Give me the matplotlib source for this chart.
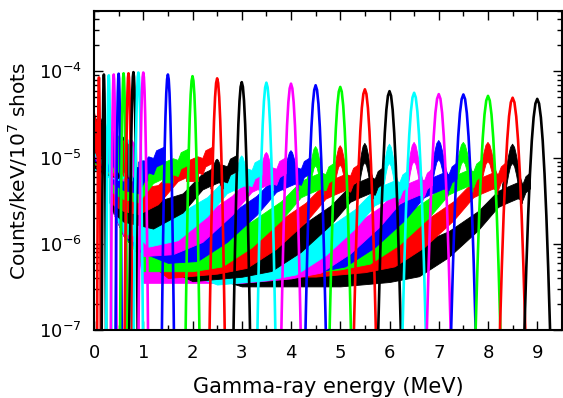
import numpy as np
import matplotlib
matplotlib.use('Agg')
import matplotlib.pyplot as plt

# full-energy peaks: energy (MeV), height, gaussian width (MeV)
peakEnergy = [0.1, 0.2, 0.3, 0.4, 0.5, 0.6, 0.7, 0.8, 0.9, 1.0,
              1.5, 2.0, 2.5, 3.0, 3.5, 4.0, 4.5, 5.0, 5.5, 6.0,
              6.5, 7.0, 7.5, 8.0, 8.5, 9.0]
peakHeight = [8.5e-5, 9.2e-5, 9.0e-5, 9.2e-5, 9.4e-5, 9.5e-5, 9.5e-5, 9.8e-5, 9.7e-5, 9.7e-5,
              9.2e-5, 8.8e-5, 8.3e-5, 7.5e-5, 7.4e-5, 7.2e-5, 6.9e-5, 6.6e-5, 6.2e-5, 5.9e-5,
              5.65e-5, 5.45e-5, 5.4e-5, 5.2e-5, 4.95e-5, 4.8e-5]
peakSigma = [0.010, 0.012, 0.014, 0.016, 0.017, 0.019, 0.021, 0.023, 0.025, 0.026,
             0.033, 0.038, 0.042, 0.046, 0.050, 0.054, 0.057, 0.060, 0.062, 0.064,
             0.066, 0.068, 0.070, 0.071, 0.073, 0.074]
colorCycle = ['#ff0000', '#000000', '#00ffff', '#ff00ff', '#0000ff', '#00ff00']

# peak profile (offset in sigma, relative height)
shapeDx = [-4.5, -4.0, -3.5, -3.0, -2.5, -2.0, -1.5, -1.0, -0.5, 0.0,
           0.5, 1.0, 1.5, 2.0, 2.5, 3.0, 3.5, 4.0, 4.5]
shapeRel = [4.0e-5, 3.4e-4, 2.2e-3, 1.1e-2, 4.4e-2, 0.135, 0.325, 0.607, 0.882, 1.0,
            0.882, 0.607, 0.325, 0.135, 4.4e-2, 1.1e-2, 2.2e-3, 3.4e-4, 4.0e-5]

# continuum of the peaks below 1.02 MeV (fraction of peak energy, level)
lowLevel = [2.8e-5, 2.6e-5, 2.3e-5, 2.1e-5, 1.9e-5, 1.8e-5, 1.7e-5, 1.6e-5, 1.5e-5, 1.5e-5]
lowFrac = [0.0, 0.3, 0.6, 0.75, 0.85]
lowShape = [1.2, 1.0, 0.9, 1.1, 0.9]

# continuum of the peaks from 1.5 MeV, relative to the peak energy
tmplD = [-9.5, -6.0, -4.0, -3.0, -2.4, -1.8, -1.2, -0.8, -0.65]
tmplHi = [8e-7, 8e-7, 8e-7, 9e-7, 1.0e-6, 1.4e-6, 2.4e-6, 4.1e-6, 4.5e-6]
tmplRatio = [0.4, 0.4, 0.4, 0.4, 0.42, 0.5, 0.6, 0.65, 0.65]
comptonD = [-0.4, -0.3, -0.24]
comptonRel = [1.15, 1.1, 1.35]
thrX = [0.32, 0.4, 0.6, 0.9]
thrMin = [6e-6, 4.5e-6, 2.5e-6, 1.5e-6]
thrGain = [1.6, 1.4, 1.2, 1.1]

contScale = [2.0, 1.9, 2.0, 1.6, 1.45, 1.5, 1.5, 1.3, 1.25, 1.15,
             1.05, 1.1, 1.3, 1.4, 1.3, 1.0]
contFloor = [7e-6, 5.5e-6, 4e-6, 3e-6, 2.2e-6, 1.8e-6, 1.5e-6, 1.2e-6, 1.0e-6, 9e-7,
             8e-7, 8e-7, 8e-7, 7e-7, 7e-7, 7e-7]
escapeTop = [9.3e-6, 8.6e-6, 9.0e-6, 9.7e-6, 1.06e-5, 1.16e-5, 1.22e-5, 1.36e-5, 1.39e-5, 1.48e-5,
             1.45e-5, 1.52e-5, 1.6e-5, 1.52e-5, 1.52e-5, 1.45e-5]


def drawContinuum(ax, i, color):
    E = peakEnergy[i]
    sig = peakSigma[i]

    if i < 10:
        x = E * np.array(lowFrac)
        hi = lowLevel[i] * np.array(lowShape)
        ax.fill_between(x, hi * 0.4, hi, color=color, lw=0.6)
        return

    j = i - 10
    d = np.array(tmplD)
    keep = E + d > 0.95
    hiT = np.maximum(contScale[j] * np.array(tmplHi), contFloor[j])[keep]
    loT = hiT * np.array(tmplRatio)[keep]
    hiThr = np.maximum(contFloor[j] * np.array(thrGain), thrMin)
    base = contScale[j] * 4.5e-6
    hiC = base * np.array(comptonRel + [1.5])
    xC = E + np.array(comptonD + [-2.0 * sig])
    x = np.concatenate([thrX, E + d[keep], xC])
    hi = np.concatenate([hiThr, hiT, hiC])
    lo = np.concatenate([hiThr * 0.5, loT, hiC * 0.65])
    ax.fill_between(x, lo, hi, color=color, lw=0.6)

    # single escape peak
    dx = np.array(shapeDx)
    sel = np.abs(dx) <= 2.5
    xe = E - 0.511 + 1.1 * sig * dx[sel]
    ye = base + (escapeTop[j] - base) * np.array(shapeRel)[sel]
    ax.fill_between(xe, ye * 0.6, ye, color=color, lw=0.6)


fig = plt.figure(figsize=(5.63, 3.98), dpi=100)
ax = fig.add_axes([0.167, 0.171, 0.831, 0.801])

n = len(peakEnergy)
# high-energy continua first so the lower ones stay visible on top
for i in reversed(range(n)):
    drawContinuum(ax, i, colorCycle[i % 6])
for i in range(n):
    ax.plot(peakEnergy[i] + peakSigma[i] * np.array(shapeDx),
            peakHeight[i] * np.array(shapeRel), color=colorCycle[i % 6], lw=1.9)

ax.set_yscale('log')
ax.set_xlim(0, 9.5)
ax.set_ylim(1e-7, 5e-4)
ax.set_xticks(np.arange(0, 10, 1))
ax.set_xticks(np.arange(0, 9.6, 0.5), minor=True)
ax.tick_params(which='both', direction='in', top=True, right=True, width=1,
               labelsize=13)
ax.tick_params(which='major', length=6.5)
ax.tick_params(which='minor', length=3.6)
ax.tick_params(axis='x', pad=10)
ax.tick_params(axis='y', pad=9)
for s in ax.spines.values():
    s.set_linewidth(1.5)

ax.set_xlabel('Gamma-ray energy (MeV)', fontsize=15, labelpad=11)
ax.set_ylabel('Counts/keV/10$^{7}$ shots', fontsize=14.5, labelpad=6)

fig.savefig('out.png', dpi=100)
